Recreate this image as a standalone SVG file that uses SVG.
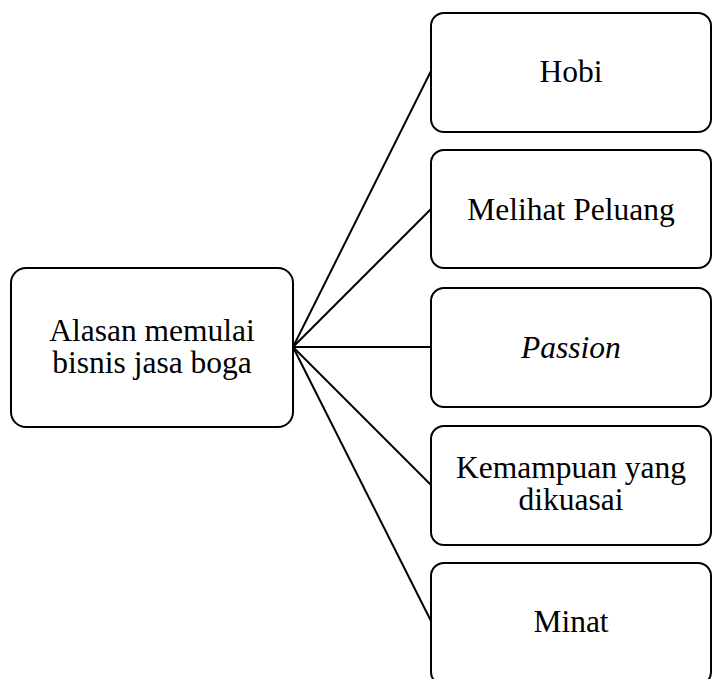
<svg xmlns="http://www.w3.org/2000/svg" width="713" height="679" viewBox="0 0 713 679">
<style>
.box{fill:#fff;stroke:#000;stroke-width:2}
.t{font-family:'Liberation Serif','Times New Roman','DejaVu Serif',serif;font-size:31.5px;fill:#000;text-anchor:middle}
.con line{stroke:#000;stroke-width:2}
</style>
<rect width="713" height="679" fill="#fff"/>
<g id="connectors" class="con">
<line x1="293" y1="347" x2="431" y2="71"/>
<line x1="293" y1="347" x2="431" y2="209"/>
<line x1="293" y1="347" x2="431" y2="347"/>
<line x1="293" y1="347" x2="431" y2="485"/>
<line x1="293" y1="347" x2="431" y2="621"/>
</g>
<g id="root">
<rect class="box" x="11" y="268" width="282" height="159" rx="15"/>
<text class="t" x="152" y="341">Alasan memulai</text>
<text class="t" x="152" y="373">bisnis jasa boga</text>
</g>
<g id="hobi">
<rect class="box" x="431" y="13" width="280" height="119" rx="13"/>
<text class="t" x="571" y="82">Hobi</text>
</g>
<g id="melihat">
<rect class="box" x="431" y="150" width="280" height="118" rx="13"/>
<text class="t" x="571" y="220">Melihat Peluang</text>
</g>
<g id="passion">
<rect class="box" x="431" y="288" width="280" height="119" rx="13"/>
<text class="t" x="571" y="358" font-style="italic">Passion</text>
</g>
<g id="kemampuan">
<rect class="box" x="431" y="426" width="280" height="119" rx="13"/>
<text class="t" x="571" y="478">Kemampuan yang</text>
<text class="t" x="571" y="510">dikuasai</text>
</g>
<g id="minat">
<rect class="box" x="431" y="563" width="280" height="122" rx="13"/>
<text class="t" x="571" y="632">Minat</text>
</g>
</svg>
